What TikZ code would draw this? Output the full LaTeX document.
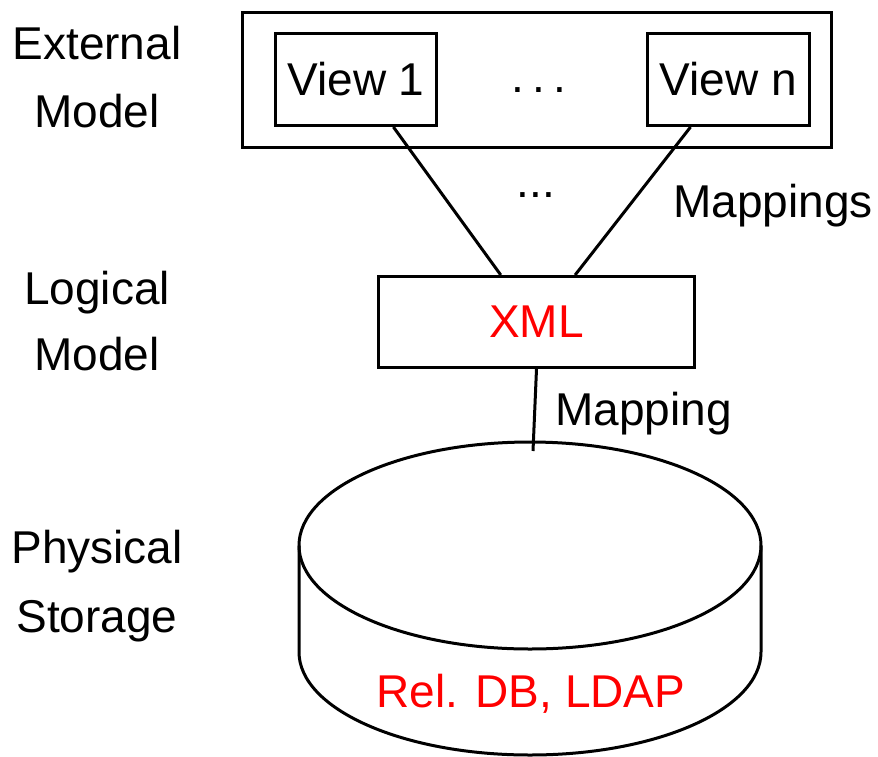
\documentclass[tikz,border=0pt]{standalone}
\usepackage{fontspec}
\setmainfont{Liberation Sans}
\usetikzlibrary{calc}
\definecolor{txtred}{RGB}{255,0,0}
\tikzset{
  x=1pt, y=1pt,
  txt/.style={inner sep=0pt, font=\fontsize{46}{54}\selectfont},
  boxnode/.style={draw, line width=3pt, inner sep=0pt},
  conn/.style={line width=3pt},
}
\begin{document}
\begin{tikzpicture}
\useasboundingbox (0,0) rectangle (878,-756);
% left labels
\node[txt, anchor=base] (ext1) at (97,-59) {External};
\node[txt, anchor=base] (ext2) at (97,-127) {Model};
\node[txt, anchor=base] (log1) at (97,-304) {Logical};
\node[txt, anchor=base] (log2) at (97,-370) {Model};
\node[txt, anchor=base] (phy1) at (97,-563) {Physical};
\node[txt, anchor=base] (phy2) at (97,-632) {Storage};
% external model box
\node[boxnode, minimum width=589, minimum height=135] (ext) at (537,-80) {};
\node[boxnode, minimum width=161, minimum height=92, txt] (v1) at (356,-79.5) {View 1};
\node[boxnode, minimum width=162, minimum height=92, txt] (vn) at (728.5,-79.5) {View n};
\node[txt, anchor=base] (dtop) at (539,-92) {.\kern8pt.\kern8pt.};
% logical
\node[boxnode, minimum width=316, minimum height=91, txt, text=txtred] (xml) at (536.5,-322) {XML};
\node[txt, anchor=base] (dmid) at (536,-197) {...};
\node[txt, anchor=base west] (maps) at (673,-217) {Mappings};
\node[txt, anchor=base west] (map) at (555,-425) {Mapping};
% connectors
\draw[conn] ($(v1.south west)!0.728!(v1.south east)$) -- ($(xml.north west)!0.388!(xml.north east)$);
\draw[conn] ($(vn.south west)!0.27!(vn.south east)$) -- ($(xml.north west)!0.621!(xml.north east)$);
\coordinate (dbtap) at (533,-451);
\draw[conn] (xml.south) -- (dbtap);
% cylinder
\draw[conn] (530,-545.5) ellipse [x radius=231, y radius=103.5];
\draw[conn] (299,-545.5) -- (299,-652) arc[start angle=180, end angle=360, x radius=231, y radius=103] -- (761,-545.5);
\node[txt, anchor=base, text=txtred] (db) at (531,-707) {Rel. DB, LDAP};
\end{tikzpicture}
\end{document}
